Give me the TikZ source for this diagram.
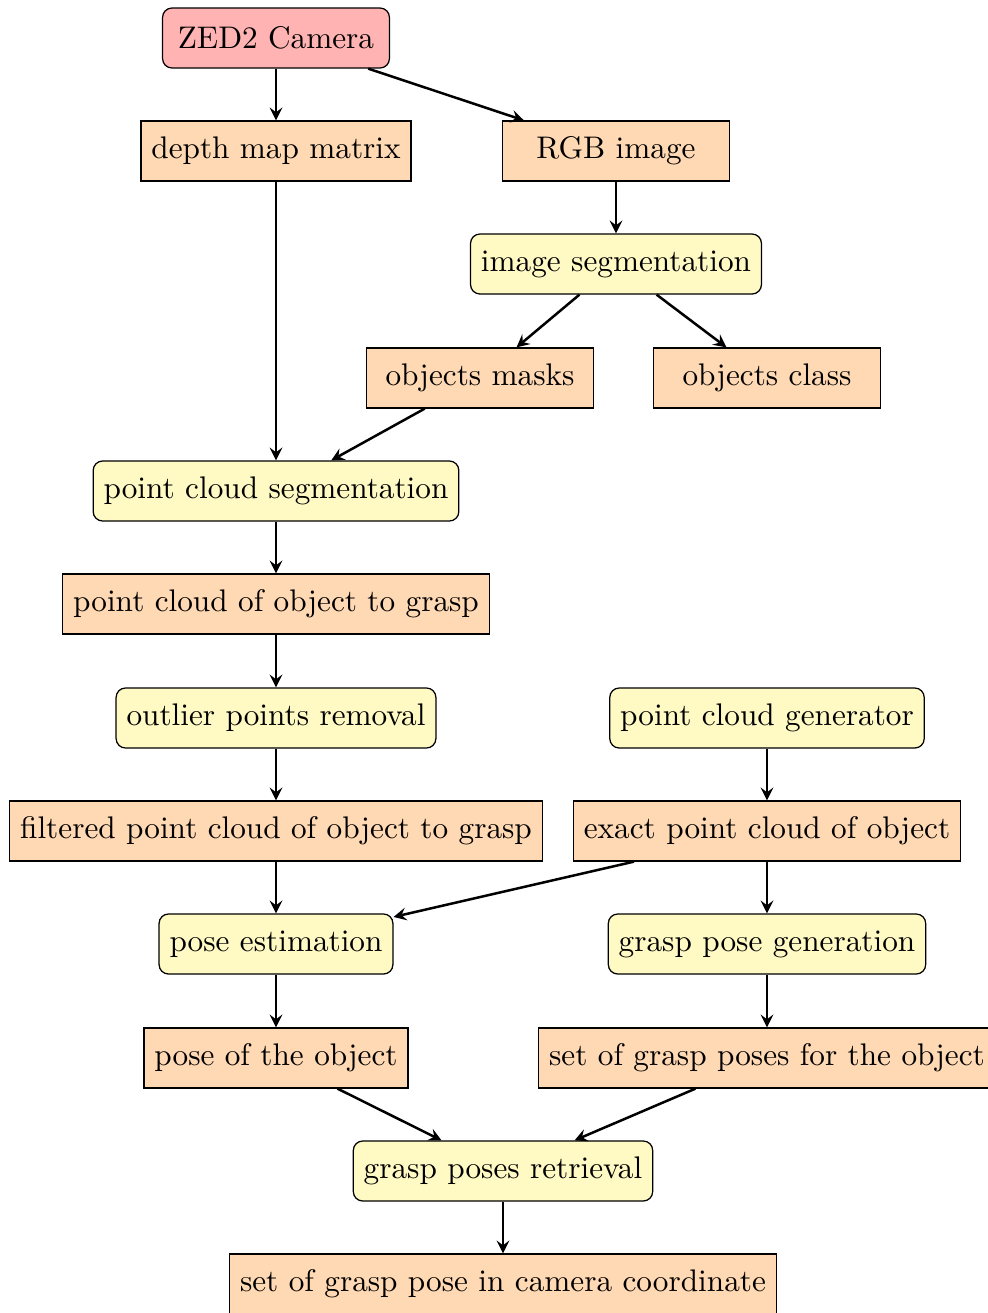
\documentclass[tikz,border=0pt]{standalone}
\usetikzlibrary{arrows}
\definecolor{camfill}{RGB}{255,179,179}
\definecolor{datafill}{RGB}{255,217,179}
\definecolor{procfill}{RGB}{255,250,196}
\begin{document}
\begin{tikzpicture}[x=0.32pt,y=-0.32pt,
  base/.style={draw, minimum height=19.2pt, minimum width=72.6pt, inner sep=3.33pt, line width=0.4pt},
  cambox/.style={base, fill=camfill, rounded corners=3pt},
  databox/.style={base, fill=datafill},
  procbox/.style={base, fill=procfill, rounded corners=3pt},
  conn/.style={thick, -stealth}]
\useasboundingbox (0,0) rectangle (987,1313);
\node[cambox]  (cam)     at (276,38)   {ZED2 Camera};
\node[databox] (depth)   at (276,151)  {depth map matrix};
\node[databox] (rgb)     at (616,151)  {RGB image};
\node[procbox] (seg)     at (616,264)  {image segmentation};
\node[databox] (masks)   at (480,378)  {objects masks};
\node[databox] (cls)     at (767,378)  {objects class};
\node[procbox] (pcseg)   at (276,491)  {point cloud segmentation};
\node[databox] (pcobj)   at (276,604)  {point cloud of object to grasp};
\node[procbox] (outlier) at (276,718)  {outlier points removal};
\node[procbox] (gen)     at (767,718)  {point cloud generator};
\node[databox] (filt)    at (276,831)  {filtered point cloud of object to grasp};
\node[databox] (exact)   at (767,831)  {exact point cloud of object};
\node[procbox] (pose)    at (276,944)  {pose estimation};
\node[procbox] (gpg)     at (767,944)  {grasp pose generation};
\node[databox] (poseobj) at (276,1058) {pose of the object};
\node[databox] (setg)    at (767,1058) {set of grasp poses for the object};
\node[procbox] (ret)     at (503,1171) {grasp poses retrieval};
\node[databox] (final)   at (503,1284) {set of grasp pose in camera coordinate};
\draw[conn] (cam) -- (depth);
\draw[conn] (cam) -- (rgb);
\draw[conn] (rgb) -- (seg);
\draw[conn] (seg) -- (masks);
\draw[conn] (seg) -- (cls);
\draw[conn] (depth) -- (pcseg);
\draw[conn] (masks) -- (pcseg);
\draw[conn] (pcseg) -- (pcobj);
\draw[conn] (pcobj) -- (outlier);
\draw[conn] (outlier) -- (filt);
\draw[conn] (gen) -- (exact);
\draw[conn] (filt) -- (pose);
\draw[conn] (exact) -- (pose);
\draw[conn] (exact) -- (gpg);
\draw[conn] (pose) -- (poseobj);
\draw[conn] (gpg) -- (setg);
\draw[conn] (poseobj) -- (ret);
\draw[conn] (setg) -- (ret);
\draw[conn] (ret) -- (final);
\end{tikzpicture}
\end{document}
